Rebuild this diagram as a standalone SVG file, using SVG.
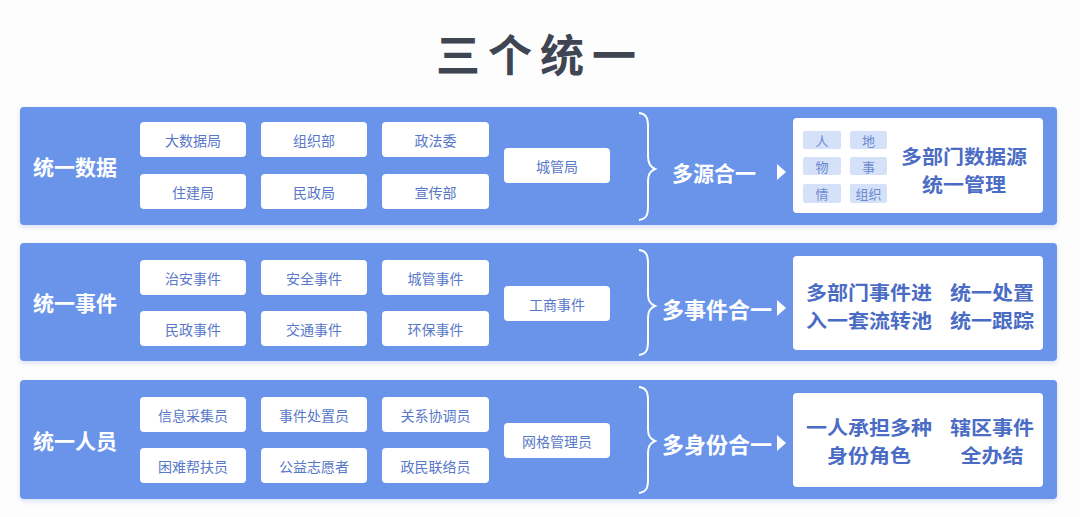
<svg xmlns="http://www.w3.org/2000/svg" width="1080" height="517" viewBox="0 0 1080 517">
<defs>
<filter id="sh" x="-5%" y="-10%" width="110%" height="125%">
<feDropShadow dx="0" dy="2" stdDeviation="2.5" flood-color="#8aa6de" flood-opacity="0.35"/>
</filter>
<style>
text{font-family:"Noto Sans CJK SC","Noto Sans",sans-serif;}
.panel{fill:#6a94ea;}
.box{fill:#ffffff;}
.bt{fill:#5878c8;font-size:14px;text-anchor:middle;dominant-baseline:central;}
.lab{fill:#ffffff;font-size:21px;font-weight:700;dominant-baseline:central;}
.mid{fill:#ffffff;font-size:22px;font-weight:700;dominant-baseline:central;}
.res{fill:#ffffff;}
.rt{fill:#4a6cc4;font-size:19px;font-weight:700;text-anchor:middle;dominant-baseline:central;}
.tag{fill:#d5e1f8;}
.tt{fill:#6a8ad0;font-size:13px;text-anchor:middle;dominant-baseline:central;}
.brace{fill:none;stroke:#ffffff;stroke-width:2;}
.tri{fill:#ffffff;}
</style>
</defs>
<rect width="1080" height="517" fill="#fdfdfe"/>
<text x="540" y="53" text-anchor="middle" dominant-baseline="central" font-size="44" font-weight="700" fill="#3f4552" letter-spacing="8">三个统一</text>

<g id="panel1">
<rect class="panel" x="20" y="107" width="1037" height="118" rx="4" filter="url(#sh)"/>
<text class="lab" x="33" y="166">统一数据</text>
</g>
<g id="panel2">
<rect class="panel" x="20" y="243" width="1037" height="118" rx="4" filter="url(#sh)"/>
<text class="lab" x="33" y="302">统一事件</text>
</g>
<g id="panel3">
<rect class="panel" x="20" y="380" width="1037" height="119" rx="4" filter="url(#sh)"/>
<text class="lab" x="33" y="440">统一人员</text>
</g>

<!-- Panel 1 boxes -->
<g id="n-dsj"><rect class="box" x="140" y="122" width="106" height="35" rx="4"/><text class="bt" x="193" y="139.5">大数据局</text></g>
<g id="n-zzb"><rect class="box" x="261" y="122" width="106" height="35" rx="4"/><text class="bt" x="314" y="139.5">组织部</text></g>
<g id="n-zfw"><rect class="box" x="382" y="122" width="107" height="35" rx="4"/><text class="bt" x="435.5" y="139.5">政法委</text></g>
<g id="n-zjj"><rect class="box" x="140" y="174" width="106" height="35" rx="4"/><text class="bt" x="193" y="191.5">住建局</text></g>
<g id="n-mzj"><rect class="box" x="261" y="174" width="106" height="35" rx="4"/><text class="bt" x="314" y="191.5">民政局</text></g>
<g id="n-xcb"><rect class="box" x="382" y="174" width="107" height="35" rx="4"/><text class="bt" x="435.5" y="191.5">宣传部</text></g>
<g id="n-cgj"><rect class="box" x="504" y="148" width="106" height="35" rx="4"/><text class="bt" x="557" y="165.5">城管局</text></g>

<!-- Panel 2 boxes -->
<g id="n-za"><rect class="box" x="140" y="260" width="106" height="35" rx="4"/><text class="bt" x="193" y="277.5">治安事件</text></g>
<g id="n-aq"><rect class="box" x="261" y="260" width="106" height="35" rx="4"/><text class="bt" x="314" y="277.5">安全事件</text></g>
<g id="n-cg"><rect class="box" x="382" y="260" width="107" height="35" rx="4"/><text class="bt" x="435.5" y="277.5">城管事件</text></g>
<g id="n-mz"><rect class="box" x="140" y="311" width="106" height="35" rx="4"/><text class="bt" x="193" y="328.5">民政事件</text></g>
<g id="n-jt"><rect class="box" x="261" y="311" width="106" height="35" rx="4"/><text class="bt" x="314" y="328.5">交通事件</text></g>
<g id="n-hb"><rect class="box" x="382" y="311" width="107" height="35" rx="4"/><text class="bt" x="435.5" y="328.5">环保事件</text></g>
<g id="n-gs"><rect class="box" x="504" y="286" width="106" height="35" rx="4"/><text class="bt" x="557" y="303.5">工商事件</text></g>

<!-- Panel 3 boxes -->
<g id="n-xx"><rect class="box" x="140" y="397" width="106" height="35" rx="4"/><text class="bt" x="193" y="414.5">信息采集员</text></g>
<g id="n-sj"><rect class="box" x="261" y="397" width="106" height="35" rx="4"/><text class="bt" x="314" y="414.5">事件处置员</text></g>
<g id="n-gx"><rect class="box" x="382" y="397" width="107" height="35" rx="4"/><text class="bt" x="435.5" y="414.5">关系协调员</text></g>
<g id="n-kn"><rect class="box" x="140" y="448" width="106" height="35" rx="4"/><text class="bt" x="193" y="465.5">困难帮扶员</text></g>
<g id="n-gy"><rect class="box" x="261" y="448" width="106" height="35" rx="4"/><text class="bt" x="314" y="465.5">公益志愿者</text></g>
<g id="n-zm"><rect class="box" x="382" y="448" width="107" height="35" rx="4"/><text class="bt" x="435.5" y="465.5">政民联络员</text></g>
<g id="n-wg"><rect class="box" x="504" y="423" width="106" height="35" rx="4"/><text class="bt" x="557" y="440.5">网格管理员</text></g>

<!-- connectors: braces and arrows -->
<g id="connectors">
<path class="brace" d="M639,113 C647,114 648,119 648,127 L648,156 C648,163 650,167 655,169 C650,171 648,174 648,181 L648,206 C648,214 647,219 639,220"/>
<path class="tri" d="M777,164 L786,172 L777,180 Z"/>
<path class="brace" d="M639,250 C647,251 648,256 648,264 L648,294 C648,301 650,304 655,306 C650,308 648,311 648,318 L648,341 C648,349 647,354 639,355"/>
<path class="tri" d="M777,300 L786,308 L777,316 Z"/>
<path class="brace" d="M639,387 C647,388 648,393 648,401 L648,429 C648,436 650,439 655,441 C650,443 648,446 648,453 L648,479 C648,487 647,492 639,493"/>
<path class="tri" d="M777,435 L786,443 L777,451 Z"/>
</g>

<g id="m1"><text class="mid" x="672" y="172" style="font-size:21px">多源合一</text></g>
<g id="m2"><text class="mid" x="662" y="308">多事件合一</text></g>
<g id="m3"><text class="mid" x="662" y="443">多身份合一</text></g>

<!-- Result 1 -->
<g id="r1">
<rect class="res" x="793" y="118" width="250" height="95" rx="4"/>
<rect class="tag" x="803" y="131" width="38" height="18" rx="2"/><text class="tt" x="822" y="140">人</text>
<rect class="tag" x="850" y="131" width="37" height="18" rx="2"/><text class="tt" x="868.5" y="140">地</text>
<rect class="tag" x="803" y="157" width="38" height="18" rx="2"/><text class="tt" x="822" y="166">物</text>
<rect class="tag" x="850" y="157" width="37" height="18" rx="2"/><text class="tt" x="868.5" y="166">事</text>
<rect class="tag" x="803" y="184" width="38" height="19" rx="2"/><text class="tt" x="822" y="193.5">情</text>
<rect class="tag" x="850" y="184" width="37" height="19" rx="2"/><text class="tt" x="868.5" y="193.5">组织</text>
<text class="rt" x="964" y="155" textLength="126" lengthAdjust="spacingAndGlyphs">多部门数据源</text>
<text class="rt" x="964" y="183" textLength="84" lengthAdjust="spacingAndGlyphs">统一管理</text>
</g>
<!-- Result 2 -->
<g id="r2">
<rect class="res" x="793" y="256" width="250" height="94" rx="4"/>
<text class="rt" x="869" y="291" textLength="126" lengthAdjust="spacingAndGlyphs">多部门事件进</text>
<text class="rt" x="869" y="319" textLength="126" lengthAdjust="spacingAndGlyphs">入一套流转池</text>
<text class="rt" x="992" y="291" textLength="84" lengthAdjust="spacingAndGlyphs">统一处置</text>
<text class="rt" x="992" y="319" textLength="84" lengthAdjust="spacingAndGlyphs">统一跟踪</text>
</g>
<!-- Result 3 -->
<g id="r3">
<rect class="res" x="793" y="393" width="250" height="94" rx="4"/>
<text class="rt" x="869" y="426" textLength="126" lengthAdjust="spacingAndGlyphs">一人承担多种</text>
<text class="rt" x="869" y="454" textLength="84" lengthAdjust="spacingAndGlyphs">身份角色</text>
<text class="rt" x="992" y="426" textLength="84" lengthAdjust="spacingAndGlyphs">辖区事件</text>
<text class="rt" x="992" y="454" textLength="63" lengthAdjust="spacingAndGlyphs">全办结</text>
</g>
</svg>
